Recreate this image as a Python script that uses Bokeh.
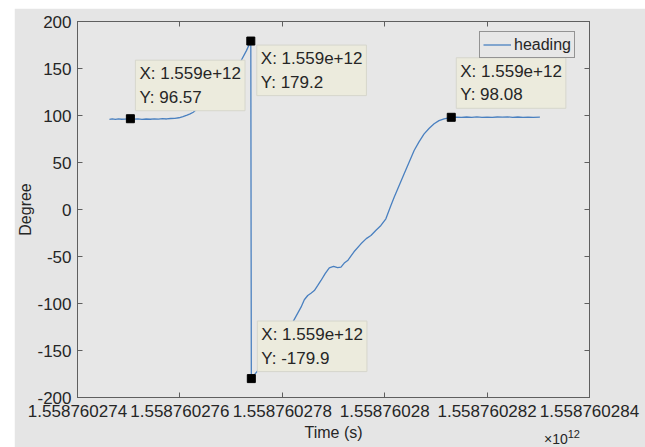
from bokeh.plotting import figure
from bokeh.models import (Range1d, FixedTicker, CustomJSTickFormatter, LinearAxis,
                          Label, Legend, LegendItem, Div)
from bokeh.layouts import column
from bokeh.embed import file_html
from bokeh.resources import INLINE

# ---------------- data ----------------
time_ms = [
    1558760274624, 1558760274680, 1558760274740, 1558760274800, 1558760274860,
    1558760274930, 1558760275033, 1558760275100, 1558760275180, 1558760275260,
    1558760275340, 1558760275420, 1558760275500, 1558760275580, 1558760275660,
    1558760275740, 1558760275820, 1558760275900, 1558760275980, 1558760276060,
    1558760276140, 1558760276200, 1558760276261, 1558760276400, 1558760276600,
    1558760276800, 1558760277000, 1558760277197, 1558760277300, 1558760277385,
    1558760277395, 1558760277600, 1558760277800, 1558760278000, 1558760278224,
    1558760278366, 1558760278430, 1558760278497, 1558760278560, 1558760278626,
    1558760278690, 1558760278756, 1558760278840, 1558760278918, 1558760279000,
    1558760279080, 1558760279146, 1558760279210, 1558760279277, 1558760279400,
    1558760279536, 1558760279640, 1558760279731, 1558760279830, 1558760279926,
    1558760280023, 1558760280121, 1558760280185, 1558760280270, 1558760280380,
    1558760280575, 1558760280670, 1558760280770, 1558760280870, 1558760280965,
    1558760281060, 1558760281160, 1558760281300, 1558760281400, 1558760281500,
    1558760281600, 1558760281700, 1558760281800, 1558760281900, 1558760282000,
    1558760282100, 1558760282200, 1558760282300, 1558760282400, 1558760282500,
    1558760282600, 1558760282700, 1558760282800, 1558760282900, 1558760283031,
]
heading = [
    95.8, 96.3, 95.9, 96.4, 96.0,
    96.2, 96.57, 96.1, 96.4, 95.9,
    96.3, 96.0, 96.5, 96.2, 96.6,
    96.3, 96.8, 97.0, 97.6, 98.8,
    100.5, 101.8, 103.5, 110.0, 121.0,
    133.0, 145.0, 158.5, 169.0, 179.2,
    -179.9, -166.0, -152.0, -137.0, -118.0,
    -103.9, -96.0, -91.5, -89.0, -86.2,
    -81.0, -75.5, -68.0, -62.0, -60.5,
    -61.8, -61.4, -57.0, -54.3, -45.0,
    -36.5, -31.0, -27.7, -22.0, -17.0,
    -9.9, 4.3, 13.1, 24.0, 38.0,
    62.8, 72.0, 80.5, 86.5, 91.2,
    94.5, 96.5, 98.08, 98.3, 97.9,
    98.4, 98.0, 98.5, 98.1, 98.3,
    97.9, 98.4, 98.2, 98.6, 98.1,
    98.4, 98.0, 98.3, 98.1, 98.2,
]

tip_time = [1558760275033, 1558760277385, 1558760277395, 1558760281300]
tip_heading = [96.57, 179.2, -179.9, 98.08]

x_ticks = [1558760274000, 1558760276000, 1558760278000,
           1558760280000, 1558760282000, 1558760284000]
x_tick_labels = ["1.558760274", "1.558760276", "1.558760278",
                 "1.55876028", "1.558760282", "1.558760284"]
x_exponent = "12"
y_ticks = [-200, -150, -100, -50, 0, 50, 100, 150, 200]
y_tick_labels = ["-200", "-150", "-100", "-50", "0", "50", "100", "150", "200"]

# ---------------- styles ----------------
FONT = "Liberation Sans"
TXT = "#262626"
AX = "#5f5f5f"
BG = "#e7e7e7"
LINE = "#4a80c0"

p = figure(width=631, height=439, margin=(8, 0, 0, 14),
           output_backend="svg", toolbar_location=None,
           x_range=Range1d(x_ticks[0], x_ticks[-1]),
           y_range=Range1d(y_ticks[0], y_ticks[-1]),
           min_border_left=62, min_border_right=56,
           min_border_top=13, min_border_bottom=50,
           background_fill_color=BG, border_fill_color="#e5e5e5",
           outline_line_color=AX)
p.grid.visible = False

LOOKUP = "const i = tvals.indexOf(tick); return i >= 0 ? tlabels[i] : '';"
xfmt = CustomJSTickFormatter(args=dict(tvals=x_ticks, tlabels=x_tick_labels), code=LOOKUP)
yfmt = CustomJSTickFormatter(args=dict(tvals=y_ticks, tlabels=y_tick_labels), code=LOOKUP)
blank = CustomJSTickFormatter(code="return '';")

def style_axis(ax):
    ax.axis_line_color = AX
    ax.major_tick_line_color = AX
    ax.major_tick_in = 5
    ax.major_tick_out = 0
    ax.minor_tick_line_color = None
    ax.major_label_text_font = FONT
    ax.major_label_text_color = TXT
    ax.major_label_text_font_size = "17px"
    ax.axis_label_text_font = FONT
    ax.axis_label_text_font_size = "16px"
    ax.axis_label_text_font_style = "normal"
    ax.axis_label_text_color = TXT

xa = p.xaxis[0]
xa.ticker = FixedTicker(ticks=x_ticks)
xa.formatter = xfmt
xa.axis_label = "Time (s)"
style_axis(xa)
xa.major_label_standoff = 7
xa.axis_label_standoff = 4

ya = p.yaxis[0]
ya.ticker = FixedTicker(ticks=y_ticks)
ya.formatter = yfmt
ya.axis_label = "Degree"
style_axis(ya)
ya.major_label_standoff = 6
ya.axis_label_standoff = 0

top = LinearAxis(ticker=FixedTicker(ticks=x_ticks), formatter=blank)
style_axis(top)
top.major_label_standoff = 0
top.major_label_text_font_size = "1px"
right = LinearAxis(ticker=FixedTicker(ticks=y_ticks), formatter=blank)
style_axis(right)
right.major_label_standoff = 0
right.major_label_text_font_size = "1px"
p.add_layout(top, "above")
p.add_layout(right, "right")

r = p.line(time_ms, heading, line_color=LINE, line_width=1.3)
p.scatter(tip_time, tip_heading, marker="square", size=8,
          fill_color="black", line_color="black")

legend = Legend(items=[LegendItem(label="heading", renderers=[r])],
                location=(402, 339), margin=0, padding=3, spacing=0,
                glyph_width=28, glyph_height=19, label_height=19,
                label_standoff=3, label_text_font=FONT, label_text_font_size="16px",
                label_text_color=TXT, border_line_color="#404040",
                border_line_width=1, background_fill_color=BG,
                background_fill_alpha=1)
p.add_layout(legend)

# data tips
offsets = [(5, 8, "bottom_left"), (6, -4, "top_left"),
           (6, 7, "bottom_left"), (5, 9, "bottom_left")]
for tx, ty, (dx, dy, anc) in zip(tip_time, tip_heading, offsets):
    lab = Label(x=tx, y=ty, x_offset=dx, y_offset=dy, anchor=anc,
                text="X: {:.4g}\nY: {:.4g}".format(tx, ty),
                text_font=FONT, text_font_size="17px", text_color=TXT,
                text_line_height=1.24,
                background_fill_color="#ecebdd", background_fill_alpha=1,
                border_line_color="#d6d6cc", padding=4)
    p.add_layout(lab)

# exponent of the x axis, placed just under the axis' right end
exp_div = Div(text='\u00d710<sup style="font-size:11px;">' + x_exponent + '</sup>',
              width=60, height=20, margin=(-21, 0, 0, 544),
              styles={"font-family": FONT, "font-size": "14px", "color": TXT,
                      "line-height": "16px", "white-space": "nowrap"})

layout = column(p, exp_div, spacing=0)
open("out.html", "w").write(file_html(layout, INLINE))
